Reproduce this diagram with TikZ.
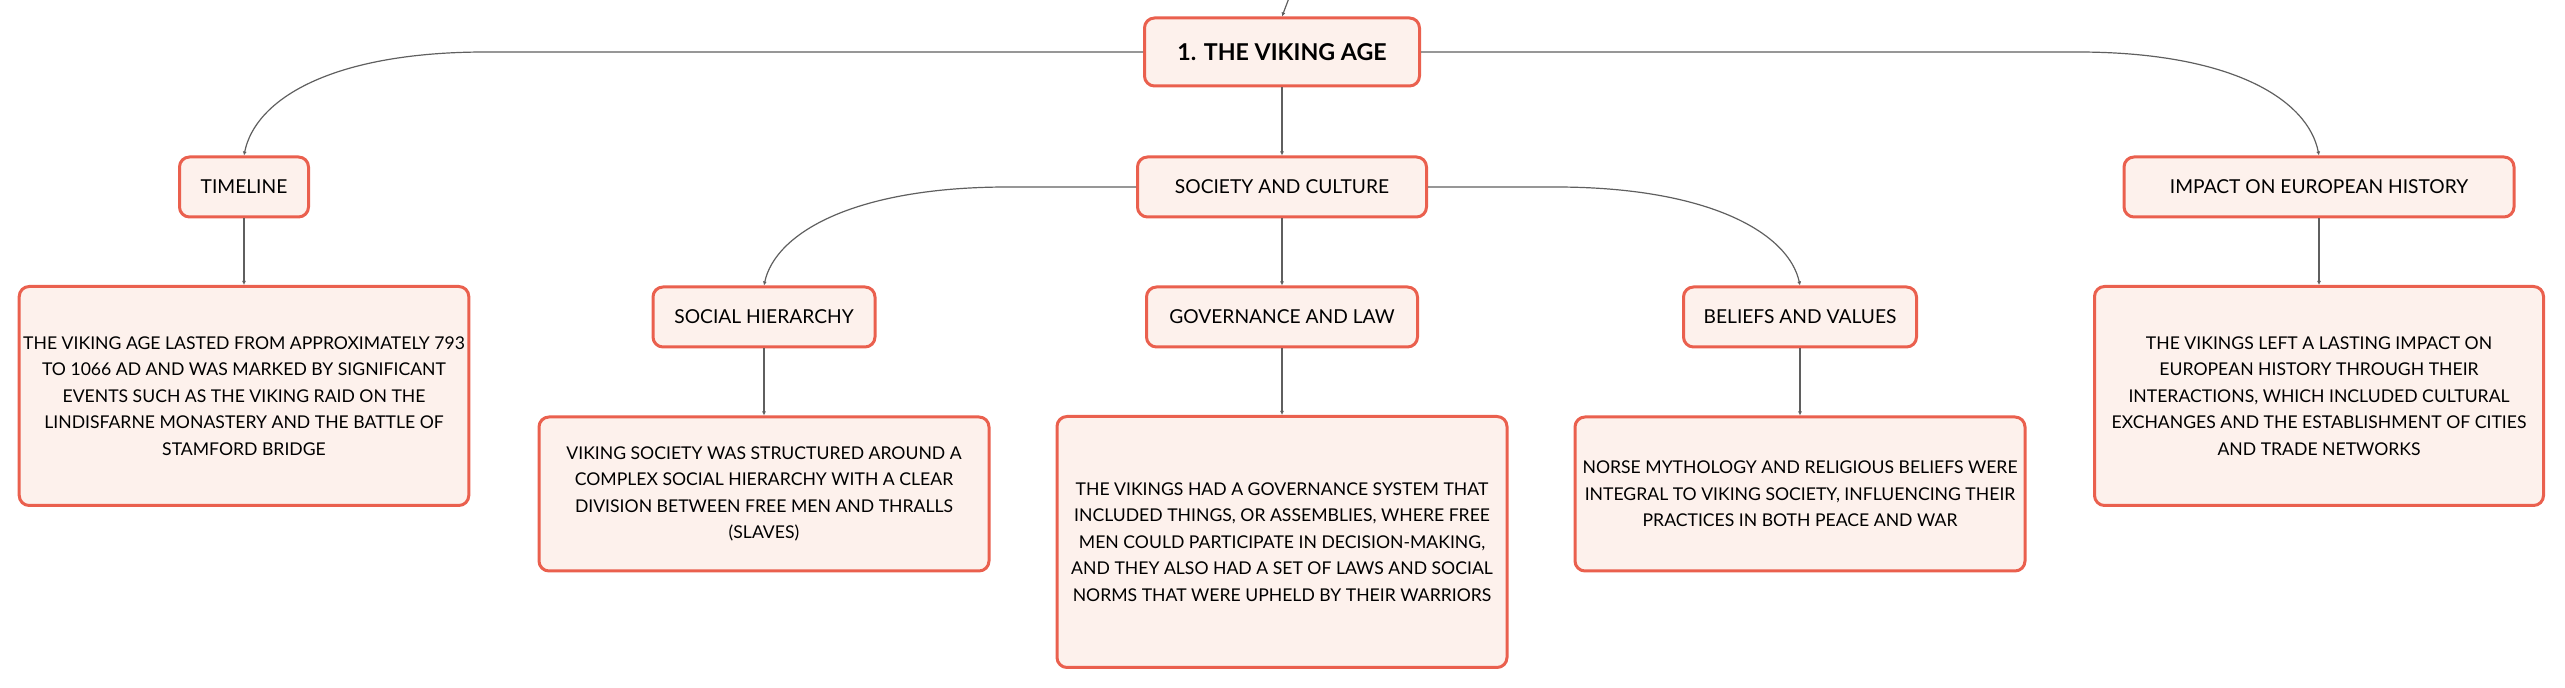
\documentclass[tikz,border=0pt]{standalone}
\usepackage{fontspec}
\setmainfont{Lato}
\usetikzlibrary{arrows.meta}

\definecolor{boxline}{RGB}{234,96,78}
\definecolor{boxfill}{RGB}{253,241,236}
\definecolor{linkgray}{RGB}{95,95,95}

\tikzset{every picture/.style={line width=0.75pt}}
\tikzset{
  topicbox/.style={draw=boxline, fill=boxfill, line width=1.5pt, rounded corners=5pt,
    align=center, inner sep=2pt, font=\fontsize{9.6}{12}\selectfont},
  notebox/.style={topicbox, font=\fontsize{8.8}{13.3}\selectfont},
  link/.style={draw=linkgray, line width=0.6pt, -{Latex[length=2pt,width=2pt]}}
}

\begin{document}
\begin{tikzpicture}[x=0.5pt,y=0.5pt,yscale=-1,xscale=1]
%set diagram left start at 0, and has height of 688
\useasboundingbox (0,0) rectangle (2565,688);
% Root Node
\node [topicbox, minimum width=137.5pt, minimum height=34pt, font=\fontsize{11.6}{14}\selectfont\bfseries] (age) at (1282,52) {1. THE VIKING AGE};
\coordinate (parent) at (1289,-2);
% Topic Nodes
\node [topicbox, minimum width=64.5pt, minimum height=30pt] (timeline) at (244,187) {TIMELINE};
\node [topicbox, minimum width=144.5pt, minimum height=30pt] (society) at (1282,187) {SOCIETY AND CULTURE};
\node [topicbox, minimum width=195pt, minimum height=30pt] (impact) at (2319,187) {IMPACT ON EUROPEAN HISTORY};
\node [topicbox, minimum width=111pt, minimum height=30pt] (hierarchy) at (764,317) {SOCIAL HIERARCHY};
\node [topicbox, minimum width=135.5pt, minimum height=30pt] (governance) at (1282,317) {GOVERNANCE AND LAW};
\node [topicbox, minimum width=116.5pt, minimum height=30pt] (beliefs) at (1800,317) {BELIEFS AND VALUES};
% Note Nodes
\node [notebox, minimum width=224.5pt, minimum height=109.5pt] (timelinenote) at (244,396) {THE VIKING AGE LASTED FROM APPROXIMATELY 793\\TO 1066 AD AND WAS MARKED BY SIGNIFICANT\\EVENTS SUCH AS THE VIKING RAID ON THE\\LINDISFARNE MONASTERY AND THE BATTLE OF\\STAMFORD BRIDGE};
\node [notebox, minimum width=224.5pt, minimum height=109.5pt] (impactnote) at (2319,396) {THE VIKINGS LEFT A LASTING IMPACT ON\\EUROPEAN HISTORY THROUGH THEIR\\INTERACTIONS, WHICH INCLUDED CULTURAL\\EXCHANGES AND THE ESTABLISHMENT OF CITIES\\AND TRADE NETWORKS};
\node [notebox, minimum width=225pt, minimum height=77pt] (hierarchynote) at (764,494) {VIKING SOCIETY WAS STRUCTURED AROUND A\\COMPLEX SOCIAL HIERARCHY WITH A CLEAR\\DIVISION BETWEEN FREE MEN AND THRALLS\\(SLAVES)};
\node [notebox, minimum width=225pt, minimum height=125.5pt] (governancenote) at (1282,542) {THE VIKINGS HAD A GOVERNANCE SYSTEM THAT\\INCLUDED THINGS, OR ASSEMBLIES, WHERE FREE\\MEN COULD PARTICIPATE IN DECISION-MAKING,\\AND THEY ALSO HAD A SET OF LAWS AND SOCIAL\\NORMS THAT WERE UPHELD BY THEIR WARRIORS};
\node [notebox, minimum width=225pt, minimum height=77pt] (beliefsnote) at (1800,494) {NORSE MYTHOLOGY AND RELIGIOUS BELIEFS WERE\\INTEGRAL TO VIKING SOCIETY, INFLUENCING THEIR\\PRACTICES IN BOTH PEACE AND WAR};
%Straight Lines
\draw [link] (parent) -- (age.north);
\draw [link] (age.south) -- (society.north);
\draw [link] (timeline.south) -- (timelinenote.north);
\draw [link] (impact.south) -- (impactnote.north);
\draw [link] (society.south) -- (governance.north);
\draw [link] (hierarchy.south) -- (hierarchynote.north);
\draw [link] (governance.south) -- (governancenote.north);
\draw [link] (beliefs.south) -- (beliefsnote.north);
%Curve Lines
\draw [link] (age.west) -- (486,52) .. controls (330,52) and (255,100) .. (timeline.north);
\draw [link] (age.east) -- (2077,52) .. controls (2233,52) and (2308,100) .. (impact.north);
\draw [link] (society.west) -- (1008,187) .. controls (852,187) and (775,234) .. (hierarchy.north);
\draw [link] (society.east) -- (1555,187) .. controls (1711,187) and (1789,234) .. (beliefs.north);
\end{tikzpicture}
\end{document}
